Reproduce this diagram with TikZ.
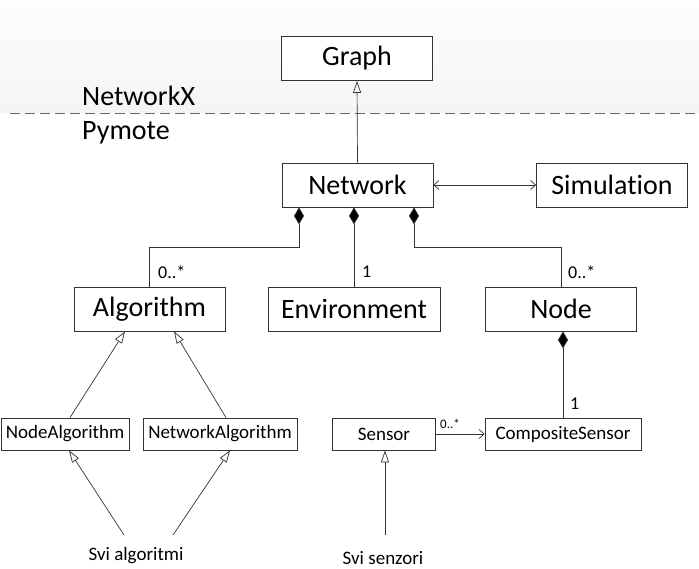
\documentclass[tikz,border=0pt]{standalone}
\usepackage{fontspec}
\setmainfont{Carlito}[Ligatures=NoCommon]
\usetikzlibrary{arrows.meta,positioning}
\tikzset{SB/.tip={Straight Barb[length=5pt,width=9pt]}}
\definecolor{bgtop}{RGB}{253,253,253}
\definecolor{bgbot}{RGB}{245,245,245}
\begin{document}
\begin{tikzpicture}[x=1pt,y=-1pt,
  box/.style={draw=black!80,line width=0.8pt,fill=white,inner sep=0pt,align=center},
  big/.style={box,minimum height=44pt,font=\fontsize{28}{30}\selectfont},
  small/.style={box,minimum height=32pt,font=\fontsize{19}{21}\selectfont},
  conn/.style={draw=black!80,line width=0.7pt},
  gen/.style={conn,-{Triangle[open,length=12pt,width=8pt]}},
  comp/.style={conn,{Diamond[length=17pt,width=10pt,fill=black]}-},
  assoc/.style={conn,-SB},
  mult/.style={font=\fontsize{18}{20}\selectfont,inner sep=0pt,anchor=west},
  lbl/.style={font=\fontsize{28}{30}\selectfont,inner sep=0pt,anchor=west},
  free/.style={font=\fontsize{19}{21}\selectfont,inner sep=0pt}
]
\useasboundingbox (0,0) rectangle (699,569);
\shade[top color=bgtop,bottom color=bgbot,draw=none] (0,0) rectangle (699,113);
\draw[black!60,line width=0.8pt,dash pattern=on 10pt off 5pt] (10,113) -- (699,113);
\node[lbl] (nx) at (82,96) {NetworkX};
\node[lbl] (py) at (82,133) {Pymote};

\node[big,minimum width=151pt] (graph) at (357,58.5) {Graph};
\node[big,minimum width=151pt] (network) at (357.5,185) {Network};
\node[big,minimum width=151pt] (simulation) at (612,185) {Simulation};
\node[big,minimum width=151pt] (algorithm) at (149.5,309) {Algorithm};
\node[big,minimum width=172pt] (environment) at (354,309) {Environment};
\node[big,minimum width=151pt] (node) at (561,309) {Node};
\node[small,minimum width=128pt] (nodealg) at (65,434) {NodeAlgorithm};
\node[small,minimum width=154pt] (netalg) at (220,434) {NetworkAlgorithm};
\node[small,minimum width=103pt] (sensor) at (384,434) {Sensor};
\node[small,minimum width=156pt] (composite) at (563,434) {CompositeSensor};
\node[free] (svialg) at (136,556) {Svi algoritmi};
\node[free] (svisen) at (383,558) {Svi senzori};
\coordinate (a1) at (124,535);
\coordinate (a2) at (173,535);
\coordinate (s1) at (385,535);

% generalizations
\draw[gen] (network.north) -- (graph.south);
\draw[gen] ([xshift=5pt]nodealg.north) -- ([xshift=-24.5pt]algorithm.south);
\draw[gen] ([xshift=6pt]netalg.north) -- ([xshift=24.5pt]algorithm.south);
\draw[gen] (a1) -- ([xshift=4pt]nodealg.south);
\draw[gen] (a2) -- ([xshift=10pt]netalg.south);
\draw[gen] (s1) -- (s1 |- sensor.south);

% compositions
\draw[comp] ([xshift=-58.5pt]network.south) -- ++(0,40) -| (algorithm.north);
\draw[comp] (environment.north |- network.south) -- (environment.north);
\draw[comp] ([xshift=56.5pt]network.south) -- ++(0,40) -| (node.north);
\draw[comp] (composite.north |- node.south) -- (composite.north);

% associations
\draw[conn,SB-SB] (network.east) -- (simulation.west);
\draw[assoc] (sensor.east) -- (composite.west);

% multiplicities
\node[mult] (m1) at (158,272) {0..*};
\node[mult] (m2) at (362,272) {1};
\node[mult] (m3) at (568,272) {0..*};
\node[mult] (m4) at (570,404) {1};
\node[mult,font=\fontsize{13}{15}\selectfont] (m5) at (440,424) {0..*};
\end{tikzpicture}
\end{document}
